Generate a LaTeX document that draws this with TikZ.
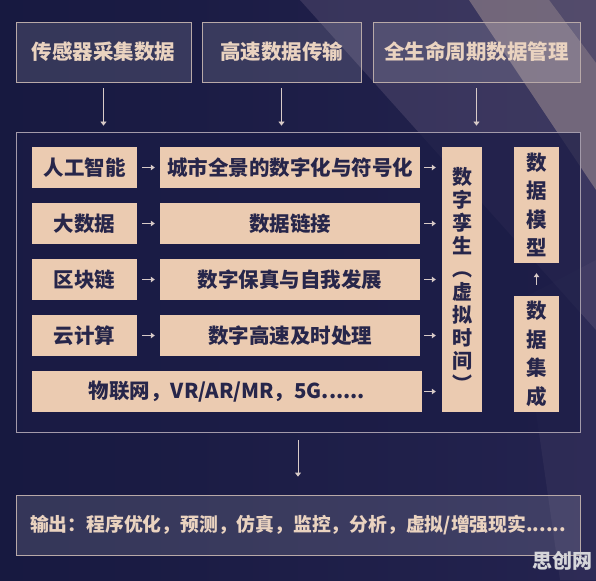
\documentclass[tikz,border=0pt]{standalone}
\usepackage{fontspec}
\setmainfont{Noto Sans CJK SC}
\usetikzlibrary{arrows.meta}
\definecolor{bgleft}{HTML}{171940}
\definecolor{bgright}{HTML}{24234F}
\definecolor{beamcol}{HTML}{D9C2B0}
\definecolor{haze}{HTML}{6A5F80}
\definecolor{boxbeige}{HTML}{EBCBB1}
\definecolor{boxtext}{HTML}{27264A}
\definecolor{toptext}{HTML}{EAD3C0}
\definecolor{topline}{HTML}{B8A9A8}
\definecolor{framecol}{HTML}{A39AAA}
\definecolor{framefill}{HTML}{1B1C46}
\definecolor{arrowcol}{HTML}{D8CBC8}
\definecolor{wmgray}{HTML}{D6D6DA}
\begin{document}
\begin{tikzpicture}[x=1pt,y=-1pt,
  topbox/.style={draw=topline, line width=0.8pt, fill=white, fill opacity=0.13, text opacity=1,
    text=toptext, font=\fontsize{20.5}{24}\selectfont\bfseries, minimum height=60pt, inner sep=0pt},
  framebox/.style={draw=framecol, line width=0.8pt, fill=framefill, fill opacity=0.75, inner sep=0pt},
  beige/.style={fill=boxbeige, text=boxtext, font=\fontsize{20.5}{24}\selectfont\bfseries,
    inner sep=0pt, minimum height=41pt},
  lbox/.style={beige, minimum width=105pt},
  mbox/.style={beige, minimum width=260pt},
  vbox/.style={beige, align=center},
  arr/.style={draw=arrowcol, line width=0.8pt, -{Triangle[width=6pt,length=4pt]}},
  sarr/.style={draw=arrowcol, line width=1pt, -{Triangle[width=5.5pt,length=4pt]}}
]
\useasboundingbox (0,0) rectangle (596,580);
% background
\path[left color=bgleft, right color=bgright] (0,0) rectangle (596,580);
\fill[haze, opacity=0.35] (300,0) -- (596,0) -- (596,330) -- cycle;
\fill[beamcol, opacity=0.35] (469,0) -- (549,0) -- (596,63) -- (596,190) -- cycle;
\fill[beamcol, opacity=0.15] (549,0) -- (596,0) -- (596,63) -- cycle;
\fill[haze, opacity=0.15] (520,300) -- (596,260) -- (596,580) -- (560,580) -- cycle;

% top boxes
\node[topbox, minimum width=175pt] (t1) at (103.5,52) {传感器采集数据};
\node[topbox, minimum width=159pt] (t2) at (281.5,52) {高速数据传输};
\node[topbox, minimum width=207pt] (t3) at (476.5,52) {全生命周期数据管理};

% frame
\node[framebox, minimum width=564pt, minimum height=300pt] (fr) at (298,282) {};

% rows
\node[lbox] (l1) at (84.5,167.5) {人工智能};
\node[lbox] (l2) at (84.5,223.5) {大数据};
\node[lbox] (l3) at (84.5,279.5) {区块链};
\node[lbox] (l4) at (84.5,335.5) {云计算};
\node[mbox] (m1) at (290,167.5) {城市全景的数字化与符号化};
\node[mbox] (m2) at (290,223.5) {数据链接};
\node[mbox] (m3) at (290,279.5) {数字保真与自我发展};
\node[mbox] (m4) at (290,335.5) {数字高速及时处理};
\node[beige, minimum width=390pt] (r5) at (227,391.5) {物联网，VR/AR/MR，5G......};

% vertical boxes
\node[vbox, minimum width=40pt, minimum height=265pt, font=\fontsize{20}{23}\selectfont\bfseries] (tw) at (462,279.5)
  {数\\字\\孪\\生\\︵\\虚\\拟\\时\\间\\︶};
\node[vbox, minimum width=45pt, minimum height=116pt, font=\fontsize{20.5}{28.5}\selectfont\bfseries] (dm) at (536.5,205)
  {数\\据\\模\\型};
\node[vbox, minimum width=45pt, minimum height=116pt, font=\fontsize{20.5}{28.5}\selectfont\bfseries] (di) at (536.5,354)
  {数\\据\\集\\成};

% output box
\node[topbox, minimum width=564pt, font=\fontsize{18.8}{22}\selectfont\bfseries] (out) at (298,525)
  {\raisebox{-2pt}{输出：程序优化，预测，仿真，监控，分析，虚拟/增强现实......}};

% watermark
\node[text=wmgray, font=\fontsize{20}{20}\selectfont\bfseries] (wm) at (562,561) {思创网};

% arrows from top
\draw[arr, shorten <=6pt, shorten >=6pt] (t1.south) -- (t1.south |- fr.north);
\draw[arr, shorten <=6pt, shorten >=6pt] (t2.south) -- (t2.south |- fr.north);
\draw[arr, shorten <=6pt, shorten >=6pt] (t3.south) -- (t3.south |- fr.north);

% row arrows
\foreach \i in {1,2,3,4}{
  \draw[sarr, shorten <=5pt, shorten >=5pt] (l\i.east) -- (m\i.west);
  \draw[sarr, shorten <=4pt, shorten >=6pt] (m\i.east) -- (m\i.east -| tw.west);
}
\draw[sarr, shorten <=2pt, shorten >=6pt] (r5.east) -- (r5.east -| tw.west);
\draw[sarr, shorten <=11pt, shorten >=10pt] (di.north) -- (dm.south);

% arrow to output
\draw[arr, shorten <=8pt, shorten >=18pt] (fr.south) -- (out.north);
\end{tikzpicture}
\end{document}
